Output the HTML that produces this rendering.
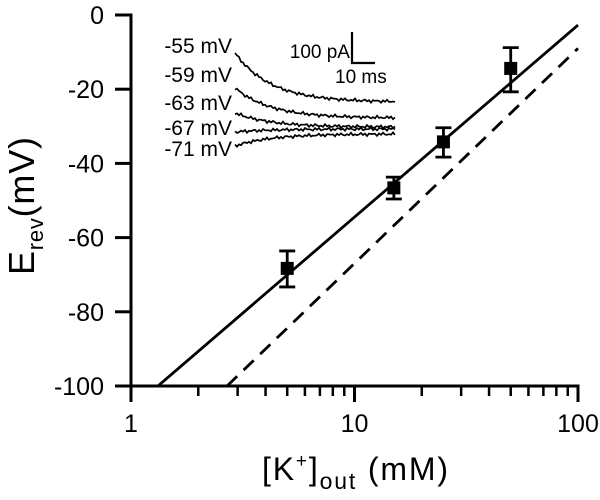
<!DOCTYPE html>
<html><head><meta charset="utf-8"><style>
html,body{margin:0;padding:0;background:#fff;}
svg{display:block;font-family:"Liberation Sans",Arial,sans-serif;}
</style></head><body>
<svg id="chart" width="600" height="500" viewBox="0 0 600 500">
<g id="axes"></g>
<g id="lines"></g>
<g id="points"></g>
<g id="inset"></g>
<text x="262" y="480" font-size="32" textLength="186" lengthAdjust="spacing">[K<tspan dy="-13" font-size="19">+</tspan><tspan dy="13">]</tspan><tspan dy="9" font-size="23">out</tspan><tspan dy="-9"> (mM)</tspan></text>
<text transform="translate(34,275) rotate(-90)" font-size="36" textLength="138" lengthAdjust="spacing">E<tspan dy="9" font-size="22">rev</tspan><tspan dy="-9">(mV)</tspan></text>
</svg>
<script>
const conc = [5, 15, 25, 50];
const erev = [-68.3, -46.6, -34.2, -14.4];
const errUp = [4.7, 2.9, 3.8, 5.6];
const errDown = [5.0, 3.0, 4.1, 6.3];
const fitX = [1.32, 100];
const fitY = [-100, -2.7];
const nernstX = [2.69, 100];
const nernstY = [-100, -9];
const yTicks = [0, -20, -40, -60, -80, -100];
const xMajor = [1, 10, 100];
const traceLabels = ['-55 mV', '-59 mV', '-63 mV', '-67 mV', '-71 mV'];
const traceStart = [53, 88, 113, 132, 146];
const traceEnd = [102, 118, 127, 129, 134];

const NS = 'http://www.w3.org/2000/svg';
const X0 = 131, DEC = 223.5, Y0 = 15, YPX = 3.71;
const sx = v => X0 + Math.log10(v) * DEC;
const sy = v => Y0 - v * YPX;
function mk(parent, tag, attrs) {
  const e = document.createElementNS(NS, tag);
  for (const k in attrs) e.setAttribute(k, attrs[k]);
  parent.appendChild(e);
  return e;
}
const axes = document.getElementById('axes');
let e;
e = mk(axes, 'line', {x1: X0, y1: sy(0) - 1.5, x2: X0, y2: sy(-100) + 1.5, stroke: '#000', 'stroke-width': 3});


e = mk(axes, 'line', {x1: X0 - 1.5, y1: sy(-100), x2: sx(100) + 1.5, y2: sy(-100), stroke: '#000', 'stroke-width': 3});


yTicks.forEach(t => {
  e = mk(axes, 'line', {x1: X0 - 16, y1: sy(t), x2: X0, y2: sy(t), stroke: '#000', 'stroke-width': 3});
  
  
  e = mk(axes, 'text', {x: 104, y: sy(t) + 9, 'font-size': 25, 'text-anchor': 'end'});
  e.textContent = t;
  
  
});
for (let d = 1; d <= 10; d *= 10) {
  for (let m = 2; m <= 9; m++) {
    e = mk(axes, 'line', {x1: sx(d * m), y1: sy(-100), x2: sx(d * m), y2: sy(-100) + 10, stroke: '#000', 'stroke-width': 2.5});
    
    
  }
}
xMajor.forEach(t => {
  e = mk(axes, 'line', {x1: sx(t), y1: sy(-100), x2: sx(t), y2: sy(-100) + 16, stroke: '#000', 'stroke-width': 3});
  
  
  e = mk(axes, 'text', {x: sx(t), y: 432, 'font-size': 25, 'text-anchor': 'middle'});
  e.textContent = t;
  
  
});
const lines = document.getElementById('lines');
e = mk(lines, 'line', {x1: sx(fitX[0]), y1: sy(fitY[0]), x2: sx(fitX[1]), y2: sy(fitY[1]), stroke: '#000', 'stroke-width': 2.8});


e = mk(lines, 'line', {x1: sx(nernstX[0]), y1: sy(nernstY[0]), x2: sx(nernstX[1]), y2: sy(nernstY[1]), stroke: '#000', 'stroke-width': 2.8, 'stroke-dasharray': '14 9'});


const pts = document.getElementById('points');
conc.forEach((c, i) => {
  const x = sx(c), y = sy(erev[i]), yt = sy(erev[i] + errUp[i]), yb = sy(erev[i] - errDown[i]);
  e = mk(pts, 'path', {d: `M${x} ${yt}V${yb}M${x-8} ${yt}H${x+8}M${x-8} ${yb}H${x+8}`, stroke: '#000', 'stroke-width': 2.8, fill: 'none'});
  
  
  e = mk(pts, 'rect', {x: x - 6.5, y: y - 6.5, width: 13, height: 13, fill: '#000'});
  
  
});
const inset = document.getElementById('inset');
const labelY = [53, 82, 110, 135, 156];
traceLabels.forEach((l, i) => {
  e = mk(inset, 'text', {x: 232, y: labelY[i], 'font-size': 21, 'text-anchor': 'end'});
  e.textContent = l;
  
  
  let d = '';
  for (let k = 0; k <= 80; k++) {
    const x = 235 + k * 2;
    const f = Math.exp(-k / 18);
    const n = Math.sin(k * 2.7 + i * 1.3) * 1.1 + Math.sin(k * 5.1 + i) * 0.7;
    const y = traceEnd[i] + (traceStart[i] - traceEnd[i]) * f + n;
    d += (k ? 'L' : 'M') + x + ' ' + y.toFixed(1);
  }
  e = mk(inset, 'path', {d: d, stroke: '#000', 'stroke-width': 1.7, fill: 'none'});
  
  
});
e = mk(inset, 'path', {d: 'M352 32V63H375', stroke: '#000', 'stroke-width': 2.2, fill: 'none'});


e = mk(inset, 'text', {x: 350, y: 58, 'font-size': 19, 'text-anchor': 'end'});
e.textContent = '100 pA';


e = mk(inset, 'text', {x: 335, y: 83, 'font-size': 19, 'text-anchor': 'start'});
e.textContent = '10 ms';


</script>
</body></html>
